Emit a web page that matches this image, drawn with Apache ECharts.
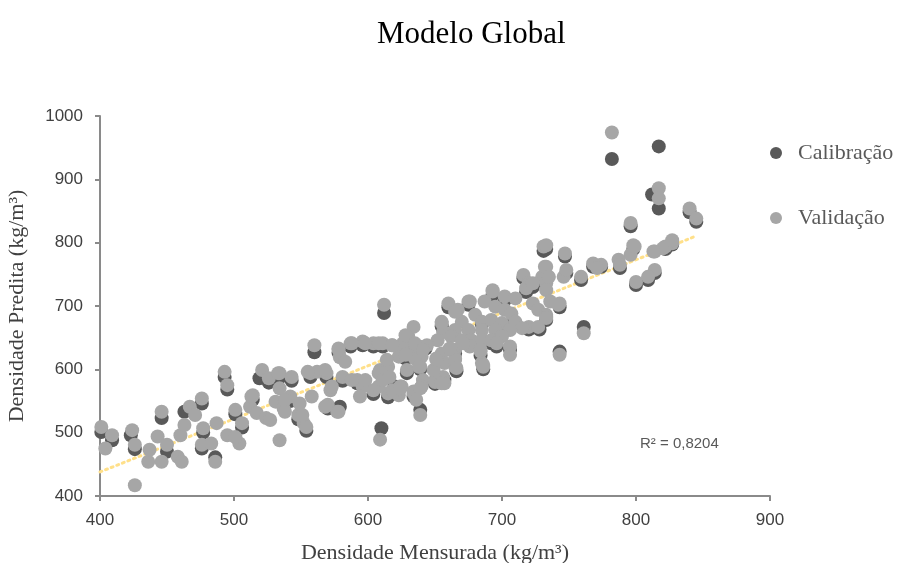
<!DOCTYPE html>
<html>
<head>
<meta charset="utf-8">
<script src="https://cdn.jsdelivr.net/npm/echarts@6/dist/echarts.min.js"></script>
<style>
	html, body { margin: 0; padding: 0; background: #fff; }
	#chart { width: 903px; height: 563px; }
</style>
</head>
<body>
<div id="chart"></div>
<script>
// valores (kg/m³): [mensurada, predita]
const calibracao = [
	[401, 501], [409, 488], [423, 496], [426, 474], [446, 523], [450, 470], [463, 533], [476, 546], [476, 475], [486, 461],
	[477, 500], [493, 588], [495, 568], [501, 529], [506, 508], [514, 552], [519, 586], [526, 579], [534, 587], [543, 582],
	[542, 550], [548, 521], [554, 503], [557, 588], [560, 627], [569, 588], [570, 538], [579, 541], [578, 626], [587, 636],
	[596, 638], [604, 636], [611, 636], [581, 582], [592, 578], [604, 561], [609, 594], [610, 507], [612, 689], [615, 556],
	[620, 573], [623, 567], [629, 594], [639, 536], [634, 557], [643, 633], [650, 577], [657, 583], [655, 668], [666, 597],
	[665, 625], [684, 622], [686, 600], [696, 636], [706, 631], [700, 667], [707, 670], [710, 673], [720, 663], [728, 663],
	[692, 641], [677, 640], [733, 678], [731, 787], [730, 740], [716, 744], [718, 722], [723, 730], [702, 709], [693, 718],
	[743, 628], [743, 698], [748, 752], [761, 667], [759, 741], [774, 762], [768, 762], [788, 760], [796, 826], [798, 790],
	[800, 733], [809, 741], [814, 752], [822, 790], [827, 797], [845, 833], [812, 876], [817, 854], [817, 952], [782, 932],
	[840, 848], [733, 790], [747, 778], [639, 600], [628, 617], [660, 698], [675, 702], [685, 671]
];

const validacao = [
	// 400-620
	[401, 509], [404, 475], [409, 496], [424, 504], [426, 481], [426, 417], [436, 454], [443, 494], [446, 533], [446, 454],
	[450, 481], [437, 473], [458, 462], [461, 454], [460, 496], [463, 512], [467, 541], [471, 528], [476, 554], [477, 507],
	[476, 481], [486, 454], [483, 483], [487, 515], [493, 596], [495, 575], [495, 496], [501, 536], [506, 515], [504, 483],
	[501, 493], [514, 559], [512, 541], [517, 531], [521, 599], [526, 586], [524, 523], [527, 520], [534, 594], [534, 570],
	[534, 488], [531, 549], [537, 538], [543, 588], [542, 557], [548, 528], [552, 515], [554, 509], [557, 594], [558, 557],
	[560, 638], [562, 596], [569, 594], [570, 544], [577, 533], [572, 567], [578, 631], [579, 619], [587, 641], [596, 644],
	[604, 641], [611, 641], [581, 588], [592, 583], [596, 573], [604, 567], [609, 599], [615, 562], [612, 702], [609, 489],
	[533, 594], [513, 557], [538, 552], [538, 533], [549, 546], [551, 528], [568, 541], [578, 533], [555, 596], [568, 599],
	[578, 633], [588, 641], [598, 641], [608, 641], [618, 638], [583, 612], [573, 573], [588, 583], [598, 583], [608, 573],
	[618, 567], [624, 573], [608, 594], [615, 604], [623, 620], [623, 559], [594, 557],
	// 620-745
	[731, 794], [732, 762], [716, 749], [730, 746], [720, 736], [733, 736], [693, 725], [702, 715], [710, 712], [687, 707],
	[676, 707], [660, 704], [667, 694], [695, 699], [702, 694], [707, 688], [723, 704], [727, 694], [733, 686], [680, 686],
	[685, 675], [670, 675], [655, 675], [692, 678], [700, 673], [710, 675], [720, 667], [727, 667], [715, 665], [706, 662],
	[695, 662], [685, 662], [675, 662], [665, 662], [656, 659], [652, 646], [662, 652], [670, 646], [677, 646], [685, 646],
	[692, 646], [700, 652], [696, 641], [706, 636], [684, 628], [676, 636], [665, 631], [665, 617], [655, 625], [651, 617],
	[657, 610], [665, 604], [685, 610], [686, 604], [656, 588], [657, 578], [650, 583], [639, 604], [640, 620], [635, 617],
	[631, 636], [624, 625], [630, 652], [638, 636], [626, 641], [634, 667], [644, 638], [641, 583], [625, 573], [634, 565],
	[640, 573], [675, 707], [665, 691], [655, 673], [628, 654], [618, 638], [635, 641], [641, 631], [614, 615], [628, 623],
	[629, 599], [638, 604], [611, 583], [616, 588], [619, 565], [624, 570], [634, 562], [639, 570], [636, 552], [639, 528],
	[650, 580], [655, 578], [649, 599], [651, 615], [665, 615], [666, 602], [661, 633], [671, 641], [684, 631], [686, 607],
	[706, 623], [743, 623], [761, 657], [743, 704], [733, 683], [718, 728], [723, 736], [693, 723], [746, 746],
	// 730-850
	[817, 886], [817, 870], [782, 974], [796, 831], [840, 854], [845, 838], [798, 796], [796, 781], [787, 773], [788, 765],
	[774, 765], [768, 767], [771, 760], [747, 783], [748, 757], [759, 746], [814, 786], [820, 791], [827, 799], [822, 794],
	[814, 757], [809, 746], [800, 738], [733, 796], [733, 762], [735, 746], [733, 725], [736, 707], [742, 702], [733, 681],
	[799, 794], [813, 786], [827, 804]
];

// linha de tendência (pontos extremos)
const tendencia = [[400, 438], [843, 809]];

const xTicks = [400, 500, 600, 700, 800, 900];
const yTicks = [400, 500, 600, 700, 800, 900, 1000];
const r2Texto = 'R² = 0,8204';

const chart = echarts.init(document.getElementById('chart'), null, { renderer: 'canvas' });

const axisLine = { lineStyle: { color: '#8a8a8a', width: 2 } };
const tickFont = { color: '#404040', fontSize: 17, fontFamily: 'Liberation Sans', formatter: (v) => String(v) };
const nameFont = { color: '#404040', fontSize: 22, fontFamily: 'Liberation Serif' };

chart.setOption({
	animation: false,
	title: {
		text: 'Modelo Global',
		left: 372,
		top: 14,
		textStyle: { color: '#000', fontSize: 31, fontWeight: 'normal', fontFamily: 'Liberation Serif' },
	},
	legend: {
		orient: 'vertical',
		left: 765,
		top: 137,
		itemGap: 43,
		itemWidth: 26,
		itemHeight: 12,
		icon: 'circle',
		textStyle: { color: '#595959', fontSize: 22, fontFamily: 'Liberation Serif', padding: [0, 0, 0, 4] },
		data: ['Calibração', 'Validação'],
	},
	grid: { left: 100, right: 133, top: 116, bottom: 67, outerBoundsMode: 'none' },
	xAxis: {
		type: 'value',
		min: xTicks[0],
		max: xTicks[xTicks.length - 1],
		interval: 100,
		name: 'Densidade Mensurada (kg/m³)',
		nameLocation: 'middle',
		nameGap: 46,
		nameTextStyle: nameFont,
		axisLine,
		axisTick: { show: true, length: 5, lineStyle: { color: '#8a8a8a', width: 2 } },
		axisLabel: Object.assign({ margin: 16 }, tickFont),
		splitLine: { show: false },
	},
	yAxis: {
		type: 'value',
		min: yTicks[0],
		max: yTicks[yTicks.length - 1],
		interval: 100,
		name: 'Densidade Predita (kg/m³)',
		nameLocation: 'middle',
		nameGap: 72,
		nameTextStyle: nameFont,
		axisLine: Object.assign({ show: true }, axisLine),
		axisTick: { show: true, length: 5, lineStyle: { color: '#8a8a8a', width: 2 } },
		axisLabel: Object.assign({ margin: 17 }, tickFont),
		splitLine: { show: false },
	},
	graphic: [
		{
			type: 'text',
			left: 640,
			top: 436,
			style: { text: r2Texto, fill: '#595959', fontSize: 15, fontFamily: 'Liberation Sans' },
		},
	],
	series: [
		{
			name: 'Tendência',
			type: 'line',
			data: tendencia,
			symbol: 'none',
			z: 1,
			lineStyle: { color: '#ffe08a', width: 3, type: [2, 4], cap: 'round' },
		},
		{
			name: 'Calibração',
			type: 'scatter',
			data: calibracao,
			symbolSize: 14,
			z: 2,
			itemStyle: { color: '#595959', opacity: 1 },
		},
		{
			name: 'Validação',
			type: 'scatter',
			data: validacao,
			symbolSize: 14,
			z: 3,
			itemStyle: { color: '#a6a6a6', opacity: 1 },
		},
	],
});
</script>
</body>
</html>
